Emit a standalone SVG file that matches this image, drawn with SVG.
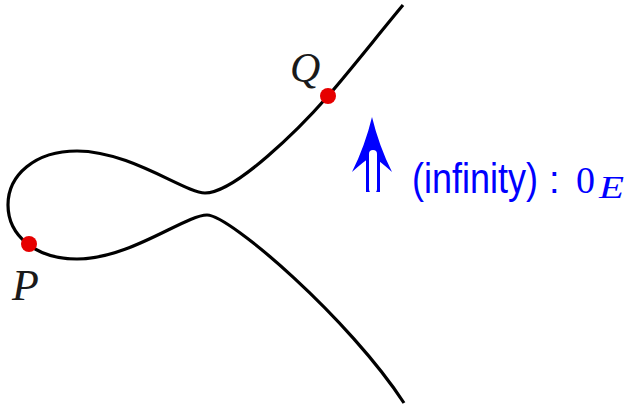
<svg xmlns="http://www.w3.org/2000/svg" width="631" height="404" viewBox="0 0 631 404">
<style>
.curve{fill:none;stroke:#000;stroke-width:3.2;stroke-linecap:butt}
.pt{fill:#e60000}
.lab{font-family:"Liberation Serif",serif;font-style:italic;fill:#1a1a1a}
.blue{fill:#0000ff}
.sans{font-family:"Liberation Sans",Arial,sans-serif}
.serif{font-family:"Liberation Serif","Times New Roman",serif}
</style>
<rect width="631" height="404" fill="#fff"/>
<g id="connectors">
<path class="curve" d="M403,5 C378,35 353,67 328,96 C300,128 235,193 205,193 C185,193 130,151 77,151 C35,151 8,175 8,205 C8,235 35,259 77,259 C130,259 185,215 207,215 C230,215 350,320 404,403"/>
</g>
<g id="P">
<circle class="pt" cx="29" cy="244" r="8"/>
<text class="lab" x="12" y="300" font-size="44">P</text>
</g>
<g id="Q">
<circle class="pt" cx="328" cy="96" r="8"/>
<text class="lab" x="290" y="82" font-size="42">Q</text>
</g>
<g id="infinity">
<path class="blue" d="M372,117 Q379,146 392,172 Q381,162 372,156 Q363,162 352,172 Q365,146 372,117 Z"/>
<rect class="blue" x="366" y="148" width="14" height="44"/>
<rect x="369" y="150" width="8" height="43" rx="4" fill="#fff"/>
<text class="blue sans" transform="translate(412,193) scale(1,1.18)" font-size="36">(infinity)</text>
<text class="blue sans" x="549" y="193" font-size="38">:</text>
<text class="blue serif" x="576" y="193" font-size="38">0</text>
<text class="blue serif" x="599" y="198" font-style="italic" font-size="31" textLength="25" lengthAdjust="spacingAndGlyphs">E</text>
</g>
</svg>
